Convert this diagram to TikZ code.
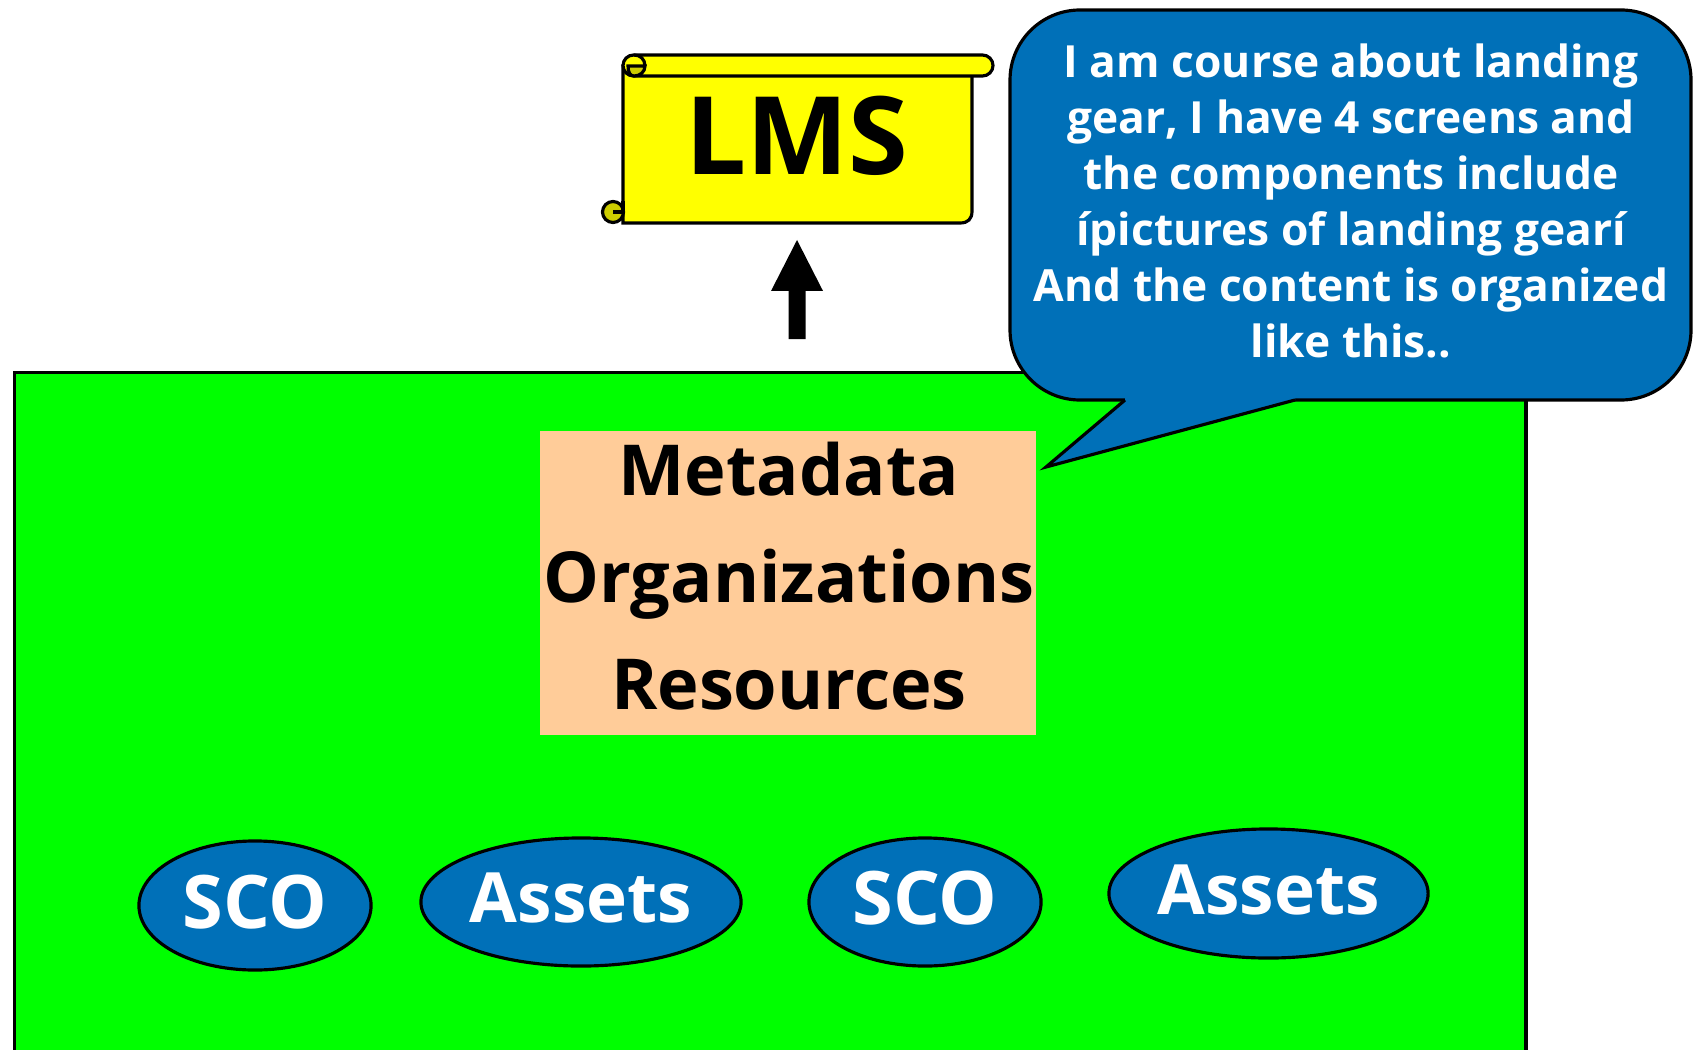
\documentclass[tikz,border=0pt]{standalone}
\usepackage{fontspec}
\setmainfont{Open Sans}
\usetikzlibrary{shapes.geometric}
\definecolor{bubbleblue}{HTML}{0070B8}
\definecolor{peach}{HTML}{FFCC99}
\definecolor{scrollyellow}{HTML}{FFFF00}
\definecolor{darkyellow}{HTML}{CCCC00}
\definecolor{packgreen}{HTML}{00FF00}
\tikzset{
  outline/.style={draw=black,line width=.9pt},
  pack/.style={ellipse,outline,fill=bubbleblue,text=white,inner sep=0pt,text depth=2.4pt},
  item/.style={anchor=base,inner sep=0pt,text=black,font=\bfseries\fontsize{20}{24}\selectfont},
}
\begin{document}
\begin{tikzpicture}[x=.01cm,y=-.01cm]
\useasboundingbox (0,0) rectangle (1695,1049);
\def\curl{.105cm};

\coordinate (tail_1) at (1125,400);
\coordinate (tail_2) at (1046,467);
\coordinate (tail_3) at (1295,400);

\node[outline,fill=packgreen,anchor=north west,inner sep=0pt,minimum width=15.11cm,minimum height=7.2cm] (package) at (12.5,371) {};
\node[fill=peach,anchor=north west,inner sep=0pt,minimum width=4.96cm,minimum height=3.04cm] (manifest) at (539,430.5) {};

\node[item] (metadata) at (789,495) {Metadata};
\node[item] (organizations) at (789,602) {Organizations};
\node[item] (resources) at (789,709) {Resources};

%scroll
\draw[outline,fill=scrollyellow] (623,66)--(623,223)--(960,223) .. controls (968,223) and (972,219) .. (972,211)--(972,70)--cycle;
\draw[outline,fill=scrollyellow,rounded corners=\curl] (623,55) rectangle (993,76);
\draw[outline,fill=darkyellow] (628,66)--(645,66) .. controls (645,72) and (640,76) .. (634,76) .. controls (630,76) and (628,72) .. cycle;
\draw[outline] (645,66) .. controls (645,59) and (640,55) .. (634,55);
\draw[outline,fill=darkyellow] (613,212) circle (.105cm);
\draw[outline] (613,212)--(623,212);
\draw[outline] (623,212)--(623,201);
\node[inner sep=0pt,font=\bfseries\fontsize{30.8}{36}\selectfont] (lms) at (797,136) {LMS};

%arrow
\fill[black] (797,240)--(823,291)--(805.5,291)--(805.5,339)--(788.5,339)--(788.5,291)--(771,291)--cycle;

%callout
\draw[outline,fill=bubbleblue,rounded corners=.7cm] (1010,10) rectangle (1691,400);
\fill[bubbleblue] (tail_1)--(tail_2)--(tail_3)--(1295,395)--(1125,395)--cycle;
\draw[outline,line join=miter] (tail_1)--(tail_2)--(tail_3);
\node[text=white,align=center,inner sep=0pt,font=\bfseries\fontsize{12.6}{15.9}\selectfont] (speech) at (1351,201) {I am course about landing\\gear, I have 4 screens and\\the components include\\ípictures of landing gearí\\And the content is organized\\like this..};

\node[pack,font=\bfseries\fontsize{21}{26}\selectfont,minimum width=2.32cm,minimum height=1.29cm] (sco_1) at (255,905.5) {SCO};
\node[pack,font=\bfseries\fontsize{19.7}{26}\selectfont,minimum width=3.2cm,minimum height=1.28cm] (assets_1) at (581,902) {Assets};
\node[pack,font=\bfseries\fontsize{21}{26}\selectfont,minimum width=2.32cm,minimum height=1.28cm] (sco_2) at (925,902) {SCO};
\node[pack,font=\bfseries\fontsize{19.7}{26}\selectfont,minimum width=3.19cm,minimum height=1.29cm] (assets_2) at (1268.5,893.5) {Assets};
\end{tikzpicture}
\end{document}
